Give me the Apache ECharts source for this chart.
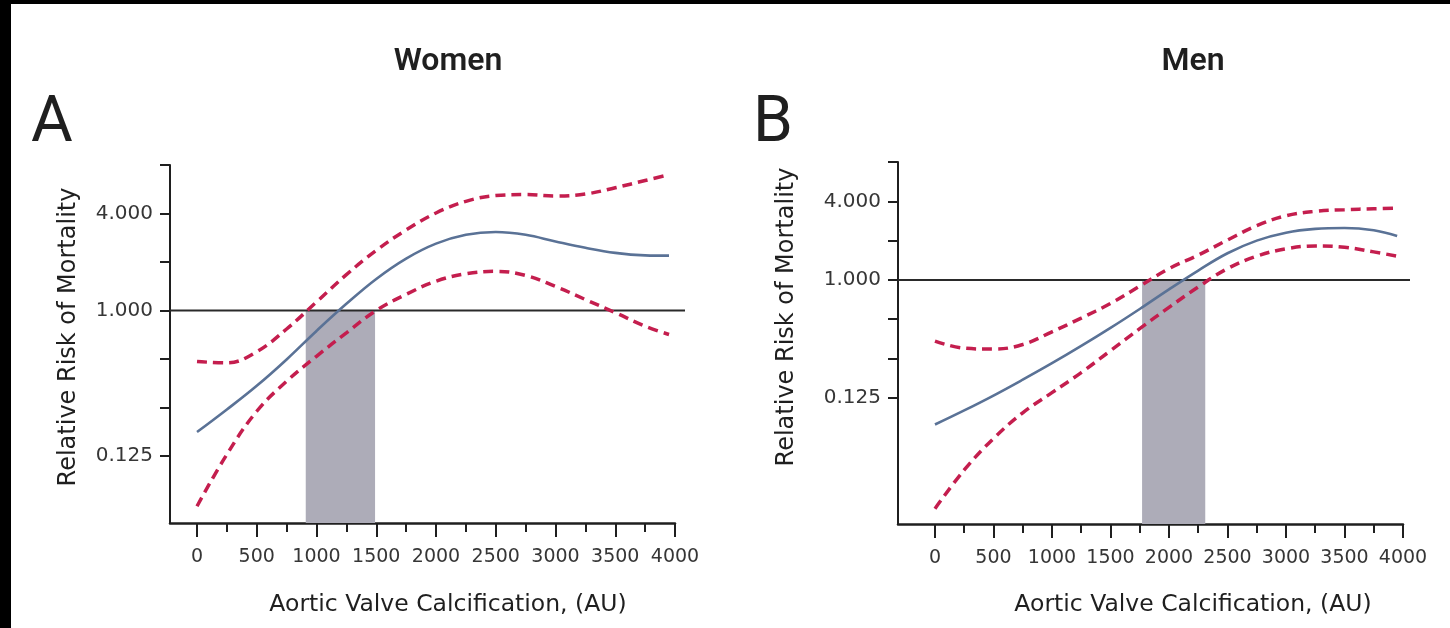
<!DOCTYPE html>
<html>
<head>
<meta charset="utf-8">
<script src="https://cdn.jsdelivr.net/npm/echarts@6/dist/echarts.min.js"></script>
<style>
  html, body { margin: 0; padding: 0; width: 1450px; height: 628px; background: #000; overflow: hidden; }
  #chart { position: absolute; left: 11px; top: 4px; width: 1439px; height: 624px; background: #fff; }
</style>
</head>
<body>
<div id="chart"></div>
<script>
// calcification values (AU) where the curves were read
const xWomen = [0, 250, 500, 750, 1000, 1250, 1500, 1750, 2000, 2250, 2500, 2750, 3000, 3250, 3500, 3750, 3950];
const womenRR    = [0.176, 0.243, 0.341, 0.497, 0.747, 1.10, 1.57, 2.10, 2.60, 2.95, 3.07, 2.95, 2.68, 2.45, 2.28, 2.20, 2.19];
const womenUpper = [0.483, 0.473, 0.555, 0.768, 1.13, 1.67, 2.36, 3.16, 4.03, 4.76, 5.17, 5.24, 5.13, 5.28, 5.78, 6.41, 6.96];
const womenLower = [0.061, 0.128, 0.237, 0.364, 0.52, 0.727, 1.0, 1.26, 1.52, 1.69, 1.75, 1.65, 1.41, 1.17, 0.97, 0.80, 0.71];
const womenShade = [910, 1490];

const xMen = [0, 250, 500, 750, 1000, 1250, 1500, 1750, 2000, 2250, 2500, 2750, 3000, 3250, 3500, 3750, 3950];
const menRR    = [0.078, 0.100, 0.130, 0.172, 0.230, 0.312, 0.429, 0.599, 0.847, 1.18, 1.60, 2.00, 2.30, 2.46, 2.50, 2.40, 2.17];
const menUpper = [0.34, 0.30, 0.295, 0.32, 0.40, 0.51, 0.66, 0.895, 1.22, 1.55, 2.02, 2.60, 3.10, 3.35, 3.45, 3.51, 3.55];
const menLower = [0.0177, 0.035, 0.061, 0.096, 0.137, 0.195, 0.287, 0.423, 0.616, 0.883, 1.22, 1.52, 1.73, 1.82, 1.78, 1.64, 1.52];
const menShade = [1770, 2310];

const xTicks = [0, 500, 1000, 1500, 2000, 2500, 3000, 3500, 4000];
const xMinorTicks = [250, 750, 1250, 1750, 2250, 2750, 3250, 3750];
const yTicks = [0.125, 0.25, 0.5, 1, 2, 4, 8];
const yLabels = [0.125, 1, 4];
const refLevel = 1;

const FONT = '"DejaVu Sans", sans-serif';
const TITLE_FONT = '"Roboto", sans-serif';
const INK = '#1f1f1f';
const LABEL = '#363636';
const BLUE = '#5a7296';
const RED = '#c41e4e';
const SHADE = '#adacb8';

const panels = [
  { left: 159, top: 161, width: 505, height: 358, refWidth: 515, xMin: -226, yMin: 0.048, yMax: 8,
    xs: xWomen, rr: womenRR, up: womenUpper, lo: womenLower, shade: womenShade },
  { left: 887, top: 158, width: 505, height: 362, refWidth: 512, xMin: -316, yMin: 0.0135, yMax: 8,
    xs: xMen, rr: menRR, up: menUpper, lo: menLower, shade: menShade }
];

const grid = [], xAxis = [], yAxis = [], series = [];

panels.forEach((p) => {
  const xMax = 4000;
  const xMaxRef = p.xMin + (xMax - p.xMin) * p.refWidth / p.width;
  const g = grid.length;
  grid.push({ left: p.left, top: p.top, width: p.width, height: p.height });
  grid.push({ left: p.left, top: p.top, width: p.refWidth, height: p.height });

  const xa = xAxis.length;
  // main x axis, labelled ticks every 500
  xAxis.push({
    type: 'value', gridIndex: g, position: 'bottom', min: p.xMin, max: xMax,
    axisLine: { show: true, onZero: false, lineStyle: { color: INK, width: 2.5 } },
    axisTick: { show: true, customValues: xTicks, length: 14, lineStyle: { color: INK, width: 2 } },
    axisLabel: { customValues: xTicks, margin: 25, color: LABEL, fontFamily: FONT, fontSize: 19,
      formatter: (v) => String(v) },
    splitLine: { show: false }
  });
  // short ticks in between
  xAxis.push({
    type: 'value', gridIndex: g, position: 'bottom', offset: 0, min: p.xMin, max: xMax,
    axisLine: { show: false, onZero: false },
    axisTick: { show: true, customValues: xMinorTicks, length: 9, lineStyle: { color: INK, width: 2 } },
    axisLabel: { show: false },
    splitLine: { show: false }
  });
  // hidden axis for the wider reference line
  xAxis.push({
    type: 'value', gridIndex: g + 1, min: p.xMin, max: xMaxRef, show: false
  });

  const ya = yAxis.length;
  yAxis.push({
    type: 'log', logBase: 2, gridIndex: g, position: 'left', min: p.yMin, max: p.yMax,
    axisLine: { show: true, onZero: false, lineStyle: { color: INK, width: 2 } },
    axisTick: { show: true, customValues: yTicks, length: 10, lineStyle: { color: INK, width: 2 } },
    axisLabel: {
      customValues: yLabels, margin: 17, color: LABEL, fontFamily: FONT, fontSize: 20,
      formatter: (v) => Number(v).toFixed(3)
    },
    splitLine: { show: false }
  });
  yAxis.push({
    type: 'log', logBase: 2, gridIndex: g + 1, min: p.yMin, max: p.yMax, show: false
  });

  series.push({
    type: 'line', xAxisIndex: xa + 2, yAxisIndex: ya + 1, z: 1,
    data: [[p.xMin, refLevel], [xMaxRef, refLevel]],
    symbol: 'none', silent: true,
    lineStyle: { color: '#2a2a2a', width: 2 },
    markArea: {
      silent: true,
      itemStyle: { color: SHADE, opacity: 1 },
      data: [[{ xAxis: p.shade[0], yAxis: p.yMin }, { xAxis: p.shade[1], yAxis: refLevel }]]
    }
  });

  const line = (vals, style, z) => ({
    type: 'line', xAxisIndex: xa, yAxisIndex: ya, z: z,
    data: p.xs.map((x, k) => [x, vals[k]]),
    smooth: 0.4, symbol: 'none', silent: true,
    lineStyle: style
  });
  series.push(line(p.up, { color: RED, width: 3.5, type: [10, 6] }, 3));
  series.push(line(p.lo, { color: RED, width: 3.5, type: [10, 6] }, 3));
  series.push(line(p.rr, { color: BLUE, width: 2.6 }, 4));
});

const text = (str, x, y, font, extra) => Object.assign({
  type: 'text', x: x, y: y, silent: true,
  style: { text: str, font: font, fill: INK, align: 'center', verticalAlign: 'middle' }
}, extra || {});

const graphic = [
  text('Women', 437, 58, '600 32px ' + TITLE_FONT),
  text('Men', 1182, 58, '600 32px ' + TITLE_FONT),
  text('A', 20, 121, '64px ' + TITLE_FONT),
  text('B', 742, 121, '64px ' + TITLE_FONT),
  text('Aortic Valve Calcification, (AU)', 437, 601, '23.5px ' + FONT),
  text('Aortic Valve Calcification, (AU)', 1182, 601, '23.5px ' + FONT),
  text('Relative Risk of Mortality', 58, 333, '24px ' + FONT, { rotation: Math.PI / 2 }),
  text('Relative Risk of Mortality', 776, 313, '24px ' + FONT, { rotation: Math.PI / 2 })
];
graphic[2].style.align = 'left';
graphic[3].style.align = 'left';

const chart = echarts.init(document.getElementById('chart'), null, { renderer: 'canvas' });
chart.setOption({
  backgroundColor: '#fff',
  animation: false,
  grid: grid,
  xAxis: xAxis,
  yAxis: yAxis,
  series: series,
  graphic: graphic
});
</script>
</body>
</html>
